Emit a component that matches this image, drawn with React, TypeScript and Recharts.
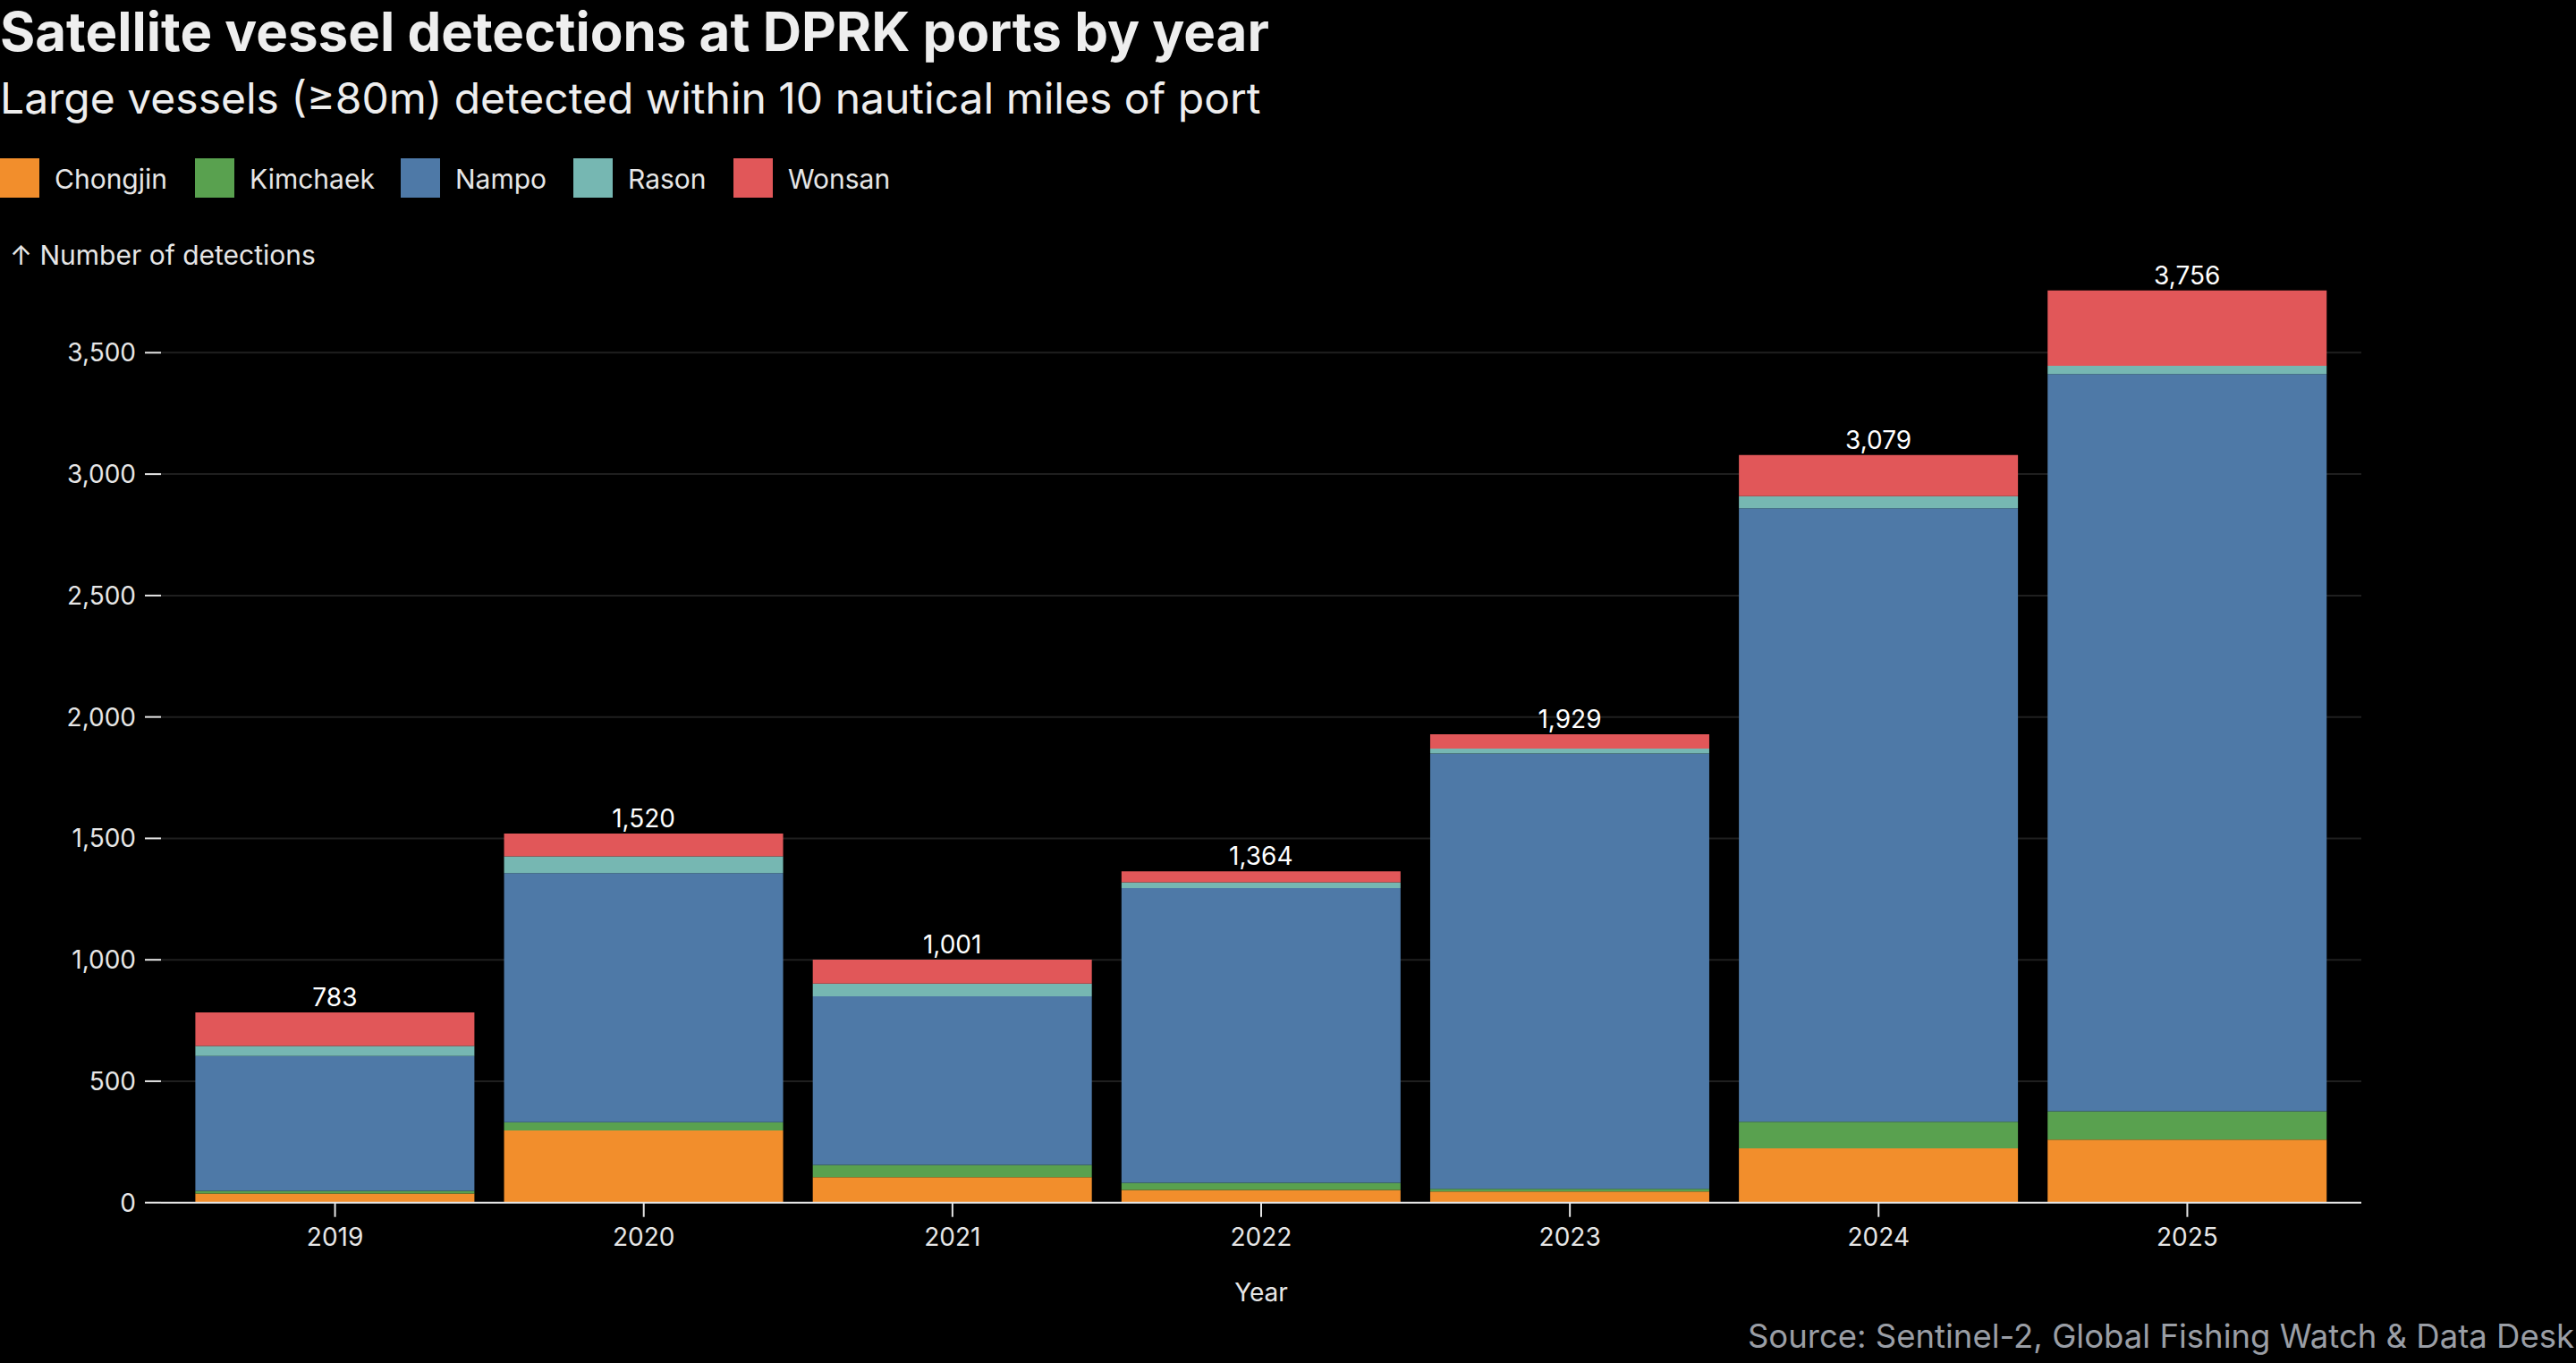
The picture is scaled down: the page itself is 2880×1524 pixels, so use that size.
import { BarChart, Bar, XAxis, YAxis, CartesianGrid, LabelList } from "recharts"

const YEARS = ["2019", "2020", "2021", "2022", "2023", "2024", "2025"]
const CHONGJIN = [38, 297, 105, 52, 46, 224, 259]
const KIMCHAEK = [11, 34, 50, 30, 11, 109, 117]
const NAMPO = [555, 1026, 695, 1213, 1793, 2527, 3036]
const RASON = [41, 69, 52, 24, 20, 49, 34]
const WONSAN = [138, 94, 99, 45, 59, 170, 310]
const TOTALS = [783, 1520, 1001, 1364, 1929, 3079, 3756]
const Y_TICKS = [0, 500, 1000, 1500, 2000, 2500, 3000, 3500]

const PORTS = [
  { key: "chongjin", name: "Chongjin", color: "#f28e2c" },
  { key: "kimchaek", name: "Kimchaek", color: "#59a14f" },
  { key: "nampo", name: "Nampo", color: "#4e79a7" },
  { key: "rason", name: "Rason", color: "#76b7b2" },
  { key: "wonsan", name: "Wonsan", color: "#e15759" },
]

const data = YEARS.map((year, i) => ({
  year,
  chongjin: CHONGJIN[i],
  kimchaek: KIMCHAEK[i],
  nampo: NAMPO[i],
  rason: RASON[i],
  wonsan: WONSAN[i],
  total: TOTALS[i],
}))

const FONT = "Inter, 'Noto Sans', sans-serif"
const TEXT = "#e6e6e6"
const LEGEND_X = [0, 218, 448, 641, 820]

const fmt = (v: unknown) => Number(v).toLocaleString("en-US")

export default function App() {
  return (
    <div style={{ position: "fixed", inset: 0, background: "#000", overflow: "hidden" }}>
      <div style={{ position: "absolute", left: 0, top: 0, width: 2880, height: 1524 }}>
        <BarChart
          width={2880}
          height={1524}
          data={data}
          margin={{ top: 312.9, right: 240, bottom: 119.3, left: 0 }}
          barCategoryGap={16.4}
          style={{ fontFamily: FONT }}
        >
          <CartesianGrid
            vertical={false}
            horizontalValues={Y_TICKS.slice(1)}
            stroke="#1f1f1f"
            strokeWidth={2}
          />
          <XAxis
            dataKey="year"
            height={60}
            padding={{ left: 22, right: 22 }}
            interval={0}
            tickSize={16}
            tickMargin={12}
            axisLine={{ stroke: TEXT, strokeWidth: 2 }}
            tickLine={{ stroke: TEXT, strokeWidth: 2 }}
            tick={{ fill: TEXT, fontSize: 28, fontFamily: FONT }}
          />
          <YAxis
            width={180}
            domain={[0, 3800]}
            ticks={Y_TICKS}
            tickFormatter={fmt}
            tickSize={18}
            tickMargin={10}
            axisLine={false}
            tickLine={{ stroke: TEXT, strokeWidth: 2 }}
            tick={{ fill: TEXT, fontSize: 28, fontFamily: FONT }}
          />
          {PORTS.map((p, i) => (
            <Bar key={p.key} dataKey={p.key} name={p.name} stackId="a" fill={p.color} isAnimationActive={false}>
              {i === PORTS.length - 1 && (
                <LabelList
                  dataKey="total"
                  position="top"
                  offset={7}
                  formatter={fmt}
                  fill="#ffffff"
                  fontSize={28}
                  fontFamily={FONT}
                />
              )}
            </Bar>
          ))}
        </BarChart>

        <svg
          width={2880}
          height={1524}
          style={{ position: "absolute", left: 0, top: 0, pointerEvents: "none", fontFamily: FONT }}
        >
          <text x={0} y={57} fill="#eeeeee" fontSize={60} fontWeight={700}>
            Satellite vessel detections at DPRK ports by year
          </text>
          <text x={0} y={127} fill="#eeeeee" fontSize={48}>
            Large vessels (≥80m) detected within 10 nautical miles of port
          </text>
          {PORTS.map((p, i) => (
            <g key={p.key}>
              <rect x={LEGEND_X[i]} y={177} width={44} height={44} fill={p.color} />
              <text x={LEGEND_X[i] + 61} y={211} fill={TEXT} fontSize={30}>
                {p.name}
              </text>
            </g>
          ))}
          <text x={11} y={296} fill={TEXT} fontSize={30}>
            ↑ Number of detections
          </text>
          <text x={1410} y={1455} fill={TEXT} fontSize={28} textAnchor="middle">
            Year
          </text>
          <text x={2878} y={1507} fill="#9a9ea5" fontSize={36.5} textAnchor="end">
            Source: Sentinel-2, Global Fishing Watch &amp; Data Desk
          </text>
        </svg>
      </div>
    </div>
  )
}
